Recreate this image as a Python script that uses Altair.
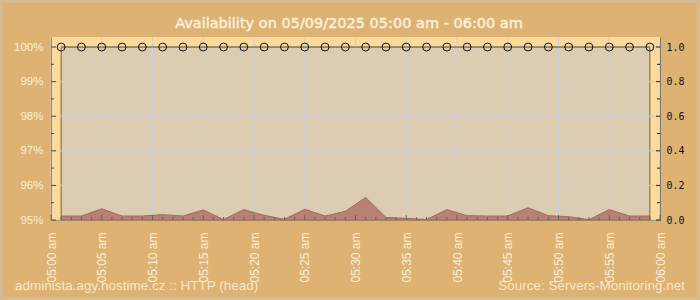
import altair as alt
import pandas as pd

# ---------------- data ----------------
title_text = "Availability on 05/09/2025 05:00 am - 06:00 am"
footer_left = "administa.agy.hostime.cz :: HTTP (head)"
footer_right = "Source: Servers-Monitoring.net"

day = "2025-05-09"
times = ["05:01", "05:03", "05:05", "05:07", "05:09", "05:11", "05:13", "05:15",
         "05:17", "05:19", "05:21", "05:23", "05:25", "05:27", "05:29", "05:31",
         "05:33", "05:35", "05:37", "05:39", "05:41", "05:43", "05:45", "05:47",
         "05:49", "05:51", "05:53", "05:55", "05:57", "05:59"]
availability = [100, 100, 100, 100, 100, 100, 100, 100, 100, 100,
                100, 100, 100, 100, 100, 100, 100, 100, 100, 100,
                100, 100, 100, 100, 100, 100, 100, 100, 100, 100]
response = [0.023, 0.023, 0.065, 0.023, 0.023, 0.031, 0.023, 0.058, 0.003, 0.060,
            0.027, 0.004, 0.062, 0.023, 0.050, 0.130, 0.015, 0.009, 0.003, 0.060,
            0.025, 0.023, 0.023, 0.071, 0.025, 0.019, 0.002, 0.060, 0.023, 0.023]

x_label_times = ["05:00", "05:05", "05:10", "05:15", "05:20", "05:25", "05:30",
                 "05:35", "05:40", "05:45", "05:50", "05:55", "06:00"]
minute_ticks = [f"05:{m:02d}" for m in range(60)] + ["06:00"]
left_major = [95, 96, 97, 98, 99, 100]
left_minor = [95.5, 96.5, 97.5, 98.5, 99.5]
right_major = [0.0, 0.2, 0.4, 0.6, 0.8, 1.0]
right_minor = [0.1, 0.3, 0.5, 0.7, 0.9]

def iso(t):
    return f"{day}T{t}:00Z"

def dt(t):
    h, m = t.split(":")
    return alt.DateTime(year=2025, month=5, date=9, hours=int(h), minutes=int(m), utc=True)

df = pd.DataFrame({"t": [iso(t) for t in times], "avail": availability, "resp": response})
major_ticks_df = pd.DataFrame({"t": [iso(t) for t in minute_ticks if int(t[-2:]) % 5 == 0]})
minor_ticks_df = pd.DataFrame({"t": [iso(t) for t in minute_ticks if int(t[-2:]) % 5 != 0]})
grid_x_df = pd.DataFrame({"t": [iso(t) for t in x_label_times]})
left_major_df = pd.DataFrame({"v": left_major})
left_minor_df = pd.DataFrame({"v": left_minor})
right_major_df = pd.DataFrame({"v": right_major})
right_minor_df = pd.DataFrame({"v": right_minor})
one = pd.DataFrame({"k": [0]})

# ---------------- layout / style ----------------
W, H = 609, 183
CREAM = "#fbf0da"
OLIVE = "#6c6a2e"
BROWN = "#5b4a22"
GRID = "#cccdd6"

x_scale = alt.Scale(type="utc", domain=[dt("05:00"), dt("06:00")])
x_axis = alt.Axis(values=[dt(t) for t in x_label_times],
                  labelExpr="lower(utcFormat(datum.value, '%I:%M %p'))",
                  labelAngle=270, labelAlign="right", labelBaseline="middle",
                  labelPadding=12, labelFont="Liberation Sans", labelFontSize=12,
                  labelColor=CREAM, labelOverlap=False, labelFlush=False, labelBound=False,
                  tickSize=0, domainColor=OLIVE, domainWidth=1, grid=False, title=None)

def X():
    return alt.X("t:T", scale=x_scale, axis=x_axis)

left_scale = alt.Scale(domain=[95, 100.29], nice=False, zero=False)
right_scale = alt.Scale(domain=[0, 1.058], nice=False, zero=False)

left_axis = alt.Axis(values=left_major, labelExpr="datum.value + '%'", tickSize=0,
                     labelPadding=8, labelFont="Liberation Sans", labelFontSize=11.5,
                     labelColor=CREAM, domainColor=BROWN, grid=False, title=None)
right_axis = alt.Axis(orient="right", values=right_major, format=".1f", tickSize=0,
                      labelPadding=6, labelFont="DejaVu Sans Mono", labelFontSize=10,
                      labelColor="#111111", domainColor="#222222", grid=False, title=None)

# availability filled area (beige) with olive outline
avail_area = alt.Chart(df).mark_area(color="#dccdb2", stroke=OLIVE, strokeWidth=1).encode(
    x=X(),
    y=alt.Y("avail:Q", scale=left_scale, axis=left_axis),
    y2=alt.datum(95),
)

grid_v = alt.Chart(grid_x_df).mark_rule(color=GRID, strokeWidth=1).encode(
    x=X(), y=alt.value(0), y2=alt.value(H))
grid_h = alt.Chart(left_major_df).mark_rule(color=GRID, strokeWidth=1).encode(
    y=alt.Y("v:Q", scale=left_scale, axis=None), x=alt.value(0), x2=alt.value(W))

resp_area = alt.Chart(df).mark_area(color="#b98074", stroke="#a6675d", strokeWidth=1,
                                    opacity=1).encode(
    x=X(),
    y=alt.Y("resp:Q", scale=right_scale, axis=right_axis),
)

avail_line = alt.Chart(df).mark_line(color=OLIVE, strokeWidth=1).encode(
    x=X(), y=alt.Y("avail:Q", scale=left_scale, axis=None))

points = alt.Chart(df).mark_point(shape="circle", size=62, filled=False,
                                  color="#111111", strokeWidth=1, opacity=1).encode(
    x=X(), y=alt.Y("avail:Q", scale=left_scale, axis=None))

lt_major = alt.Chart(left_major_df).mark_rule(color=BROWN).encode(
    y=alt.Y("v:Q", scale=left_scale, axis=None), x=alt.value(0), x2=alt.value(5))
lt_minor = alt.Chart(left_minor_df).mark_rule(color=BROWN).encode(
    y=alt.Y("v:Q", scale=left_scale, axis=None), x=alt.value(0), x2=alt.value(3))
rt_major = alt.Chart(right_major_df).mark_rule(color="#222222").encode(
    y=alt.Y("v:Q", scale=right_scale, axis=None), x=alt.value(W), x2=alt.value(W - 4))
rt_minor = alt.Chart(right_minor_df).mark_rule(color="#222222").encode(
    y=alt.Y("v:Q", scale=right_scale, axis=None), x=alt.value(W), x2=alt.value(W - 3))
bt_major = alt.Chart(major_ticks_df).mark_rule(color=OLIVE).encode(
    x=X(), y=alt.value(H), y2=alt.value(H - 5))
bt_minor = alt.Chart(minor_ticks_df).mark_rule(color=OLIVE).encode(
    x=X(), y=alt.value(H), y2=alt.value(H - 3))

title = alt.Chart(one).mark_text(font="DejaVu Sans", fontSize=14.5, fontWeight="normal",
                                 color=CREAM, stroke=CREAM, strokeWidth=0.5,
                                 align="center", baseline="alphabetic").encode(
    x=alt.value(298), y=alt.value(-9), text=alt.value(title_text))
foot_l = alt.Chart(one).mark_text(font="Liberation Sans", fontSize=13.5, color="#f6e8cc",
                                  align="left", baseline="alphabetic").encode(
    x=alt.value(-36), y=alt.value(253), text=alt.value(footer_left))
foot_r = alt.Chart(one).mark_text(font="Liberation Sans", fontSize=13.5, color="#f6e8cc",
                                  align="right", baseline="alphabetic").encode(
    x=alt.value(634), y=alt.value(253), text=alt.value(footer_right))

border = alt.Chart(one).mark_rect(fill=None, stroke="#d6bb90", strokeWidth=3).encode(
    x=alt.value(-51 + 1.5), x2=alt.value(700 - 51 - 1.5),
    y=alt.value(-37 + 1.5), y2=alt.value(300 - 37 - 1.5))

chart = alt.layer(
    avail_area, grid_v, grid_h, resp_area, avail_line, points,
    lt_major, lt_minor, rt_major, rt_minor, bt_major, bt_minor,
    title, foot_l, foot_r, border,
).resolve_scale(y="independent").properties(
    width=W, height=H,
    padding={"left": 51, "top": 37, "right": 40, "bottom": 80},
    autosize=alt.AutoSizeParams(type="none"),
).configure(background="#ddb272").configure_view(fill="#fed99c", stroke=None)

chart.save("out.html", embed_options={"renderer": "svg", "actions": False})
